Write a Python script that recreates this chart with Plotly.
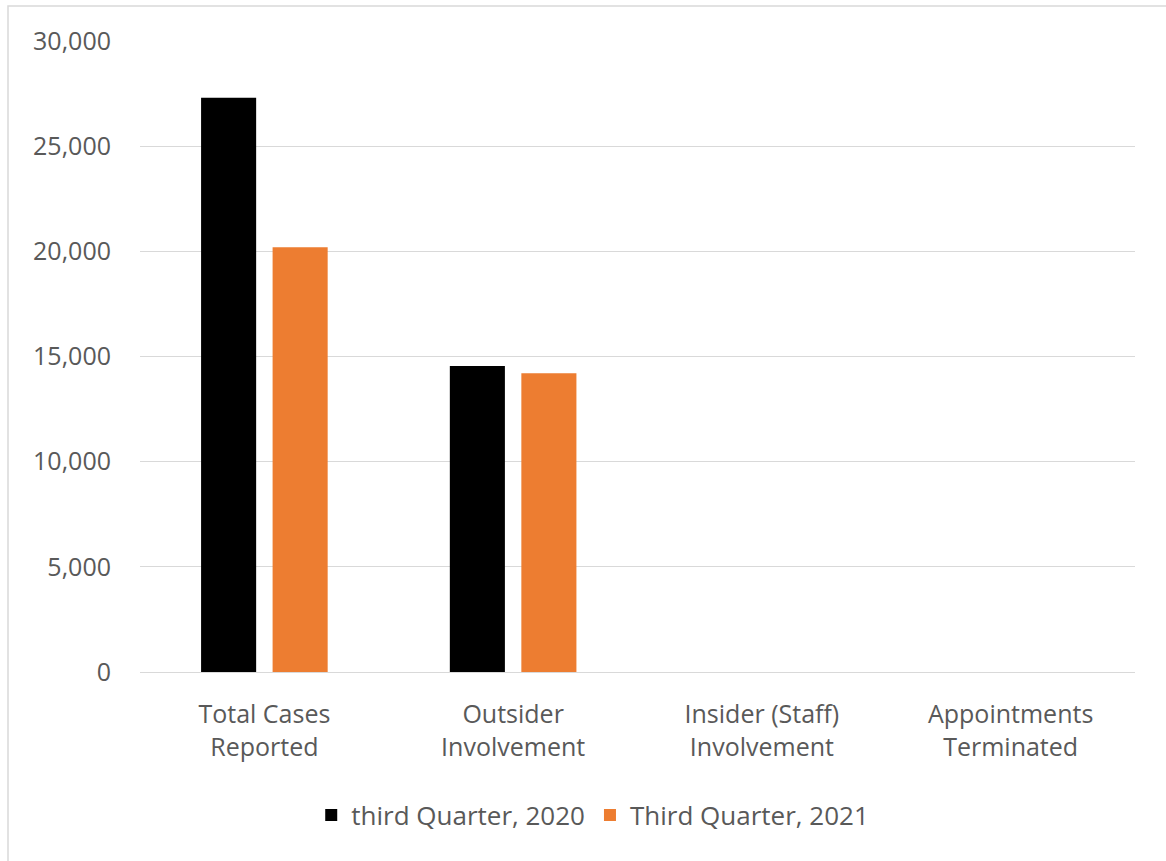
import plotly.graph_objects as go

categories = ["Total Cases<br>Reported", "Outsider<br>Involvement", "Insider (Staff)<br>Involvement", "Appointments<br>Terminated"]
series_names = ["third Quarter, 2020", "Third Quarter, 2021"]
q3_2020 = [27300, 14550, 0, 0]
q3_2021 = [20200, 14200, 0, 0]
colors = ["#000000", "#ED7D31"]

FONT = "Open Sans"
FS = 25
W, H = 1166, 861
L, R, T, B = 140, 31, 41, 189
pw, ph = W - L - R, H - T - B

fig = go.Figure()
for name, vals, c in zip(series_names, [q3_2020, q3_2021], colors):
    fig.add_trace(go.Bar(x=categories, y=vals, name=name, marker=dict(color=c, line=dict(width=0))))

def px_x(x):
    return (x - L) / pw

def px_y(y):
    return (H - B - y) / ph

fig.update_layout(
    width=W, height=H,
    margin=dict(l=L, r=R, t=T, b=B),
    paper_bgcolor="white", plot_bgcolor="white",
    barmode="group", bargap=0.425, bargroupgap=0.23,
    font=dict(family=FONT, size=FS, color="#595959"),
    showlegend=True,
    legend=dict(orientation="h", x=0.455, xanchor="center", y=px_y(815), yanchor="middle",
                font=dict(size=26, color="#595959"), itemwidth=30, traceorder="normal"),
    xaxis=dict(showgrid=False, showline=False, zeroline=False, ticks="", ticklabelstandoff=25,
               tickfont=dict(size=FS, color="#595959")),
    yaxis=dict(range=[0, 30000], dtick=5000, tickformat=",d", showgrid=True, gridcolor="#D9D9D9",
               gridwidth=1.3, zeroline=True, zerolinecolor="#D9D9D9", zerolinewidth=1.3,
               showline=False, ticks="", ticklabelstandoff=28,
               tickfont=dict(size=FS, color="#595959")),
    shapes=[dict(type="rect", xref="paper", yref="paper",
                 x0=px_x(8), x1=px_x(1172), y0=px_y(868), y1=px_y(6),
                 line=dict(color="#D9D9D9", width=1.5), fillcolor="rgba(0,0,0,0)", layer="below")],
)

fig.write_html("out.html")
